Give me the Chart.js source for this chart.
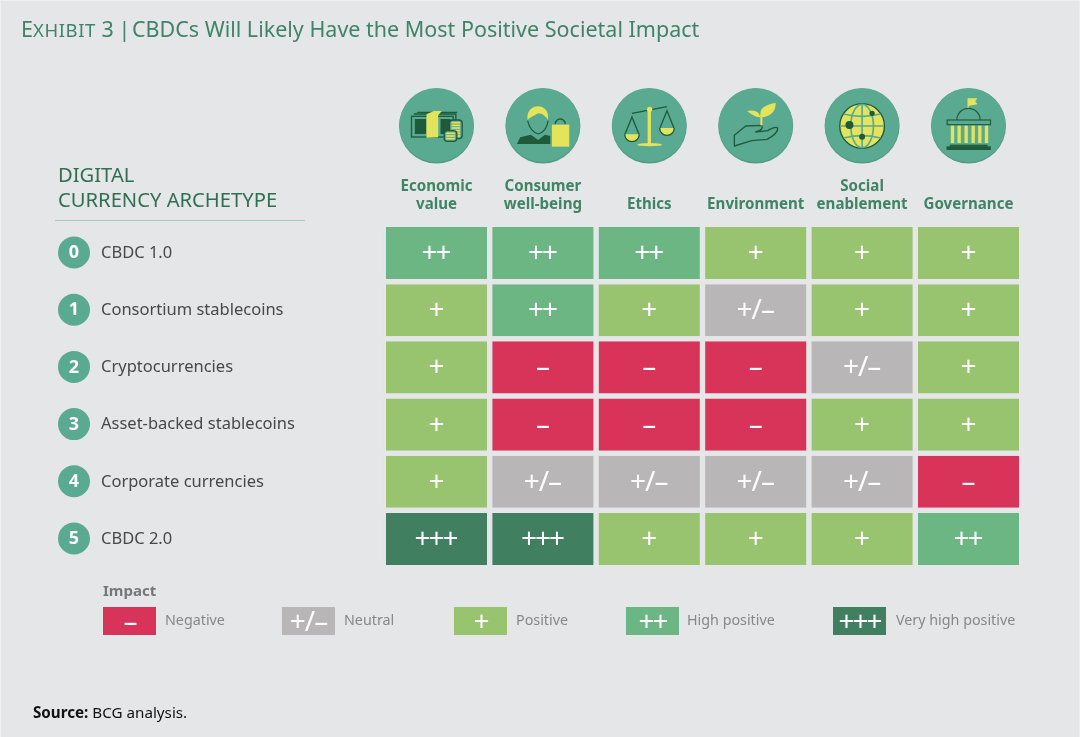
<!DOCTYPE html>
<html>
<head>
<meta charset="utf-8">
<script src="https://cdn.jsdelivr.net/npm/chart.js"></script>
<style>
    html, body { margin: 0; padding: 0; }
    body {
        position: relative; width: 1080px; height: 737px; overflow: hidden;
        background: #e5e6e8; font-family: "Noto Sans", sans-serif;
        box-shadow: inset 1px 1px 0 #f1f1f2, inset -1px 0 0 #eeeeef;
    }
    canvas { position: absolute; left: 0; top: 0; }
    .title {
        position: absolute; left: 21px; top: 14px; font-size: 21.5px; line-height: 30px;
        color: #3f8468; white-space: nowrap;
    }
    .title small { font-size: 18.5px; letter-spacing: 0.6px; }
    .title .pipe { margin: 0 -4px 0 -1px; }
    .archetype-head {
        position: absolute; left: 58px; top: 162px; width: 247px; height: 57px;
        font-size: 20.2px; line-height: 25px; color: #2f6f52;
        white-space: nowrap;
    }
    .archetype-rule { position: absolute; left: 55px; top: 220px; width: 250px; height: 1px; background: #a7c8b8; }
    .impact { position: absolute; left: 103px; top: 580px; font-size: 15px; line-height: 20px; font-weight: 700; color: #777; }
    .swatch {
        position: absolute; top: 607px; width: 53px; height: 28px; color: #fff;
        font-size: 28px; line-height: 26px; text-align: center;
    }
    .swatch-label { position: absolute; top: 608px; font-size: 14.3px; line-height: 24px; color: #85878a; white-space: nowrap; }
    .source { position: absolute; left: 33px; top: 701px; font-size: 15.2px; line-height: 22px; color: #111; }
    .source b { font-weight: 700; }
</style>
</head>
<body>
<canvas id="heatmap" width="1080" height="737"></canvas>
<div class="title">E<small>XHIBIT</small> 3<span class="pipe"> | </span>CBDCs Will Likely Have the Most Positive Societal Impact</div>
<div class="archetype-head">DIGITAL<br>CURRENCY ARCHETYPE</div>
<div class="archetype-rule"></div>
<div class="impact">Impact</div>
<div id="legend"></div>
<div class="source"><b>Source:</b> BCG analysis.</div>

<script>
// Rows and columns
const archetypes = ['CBDC 1.0', 'Consortium stablecoins', 'Cryptocurrencies', 'Asset-backed stablecoins', 'Corporate currencies', 'CBDC 2.0'];
const dimensions = [['Economic', 'value'], ['Consumer', 'well-being'], 'Ethics', 'Environment', ['Social', 'enablement'], 'Governance'];

// Ratings per column, top row first
const economicValue = ['++', '+', '+', '+', '+', '+++'];
const consumerWellBeing = ['++', '++', '–', '–', '+/–', '+++'];
const ethics = ['++', '+', '–', '–', '+/–', '+'];
const environment = ['+', '+/–', '–', '–', '+/–', '+'];
const socialEnablement = ['+', '+', '+/–', '+', '+/–', '+'];
const governance = ['+', '+', '+', '+', '–', '++'];

// Legend
const impactGlyphs = ['–', '+/–', '+', '++', '+++'];
const impactLabels = ['Negative', 'Neutral', 'Positive', 'High positive', 'Very high positive'];
const impactColors = ['#d8345a', '#b8b6b7', '#98c46f', '#6bb682', '#408061'];
const legendSwatchX = [103, 282, 454, 626, 833];
const legendLabelX = [165, 344, 516, 687, 896];

const PAGE_BG = '#e5e6e8';
const TEAL = '#5aaa92';
const TEAL_EDGE = '#519c85';
const DARK = '#1f5a3a';
const YELLOW = '#e4e35c';

const columns = [economicValue, consumerWellBeing, ethics, environment, socialEnablement, governance];

function colorFor(glyph) {
    return impactColors[impactGlyphs.indexOf(glyph)];
}

function glyphSpacing(glyph) {
    return glyph.includes('/') ? -1 : -2;
}

// --- Legend ---
const legendEl = document.getElementById('legend');
impactGlyphs.forEach((glyph, i) => {
    const swatch = document.createElement('div');
    swatch.className = 'swatch';
    swatch.style.left = legendSwatchX[i] + 'px';
    swatch.style.background = impactColors[i];
    swatch.style.letterSpacing = glyphSpacing(glyph) + 'px';
    swatch.textContent = glyph;
    legendEl.appendChild(swatch);

    const label = document.createElement('div');
    label.className = 'swatch-label';
    label.style.left = legendLabelX[i] + 'px';
    label.textContent = impactLabels[i];
    legendEl.appendChild(label);
});

// --- Icons: local coordinates are 3x pixels around the circle centre ---
function line(ctx, points, close) {
    ctx.beginPath();
    points.forEach((p, i) => i ? ctx.lineTo(p[0], p[1]) : ctx.moveTo(p[0], p[1]));
    if (close) ctx.closePath();
}

function coin(ctx, x, y, h) {
    ctx.fillStyle = TEAL;
    ctx.strokeStyle = DARK;
    ctx.lineWidth = 4;
    ctx.beginPath();
    ctx.roundRect(x - 19, y - h / 2, 38, h, 10);
    ctx.fill();
    ctx.stroke();
    ctx.strokeStyle = YELLOW;
    ctx.lineWidth = 5;
    for (let dy = -h / 2 + 8; dy < h / 2 - 3; dy += 8) {
        line(ctx, [[x - 13, y + dy], [x + 13, y + dy]]);
        ctx.stroke();
    }
}

function iconMoney(ctx) {
    ctx.strokeStyle = DARK;
    ctx.lineWidth = 4;
    ctx.strokeRect(-75, -29, 125, 62);
    line(ctx, [[-68, -36], [58, -36], [58, -15]]); ctx.stroke();
    line(ctx, [[-58, -41], [62, -41]]); ctx.stroke();
    ctx.fillStyle = DARK;
    ctx.fillRect(-65, -21, 34, 45);
    ctx.fillRect(12, -21, 30, 45);
    ctx.fillStyle = YELLOW;
    line(ctx, [[-30, -35], [-8, -45], [16, -45], [5, -32], [5, 34], [-30, 35]], true); ctx.fill();
    coin(ctx, 58, 10, 56);
    coin(ctx, 42, 30, 32);
}

function iconConsumer(ctx) {
    ctx.strokeStyle = DARK;
    ctx.lineWidth = 3.5;
    ctx.beginPath();
    ctx.moveTo(-46, -16);
    ctx.quadraticCurveTo(-38, 18, -14, 24);
    ctx.quadraticCurveTo(10, 18, 16, -16);
    ctx.stroke();
    ctx.fillStyle = YELLOW;
    ctx.beginPath();
    ctx.moveTo(-46, -18);
    ctx.bezierCurveTo(-54, -72, 24, -74, 15, -18);
    ctx.bezierCurveTo(6, -36, -12, -40, -18, -36);
    ctx.bezierCurveTo(-28, -30, -40, -26, -46, -18);
    ctx.fill();
    ctx.fillStyle = DARK;
    line(ctx, [[-78, 54], [-68, 34], [-36, 26], [-14, 42], [6, 26], [22, 30], [22, 54]], true); ctx.fill();
    ctx.strokeStyle = DARK;
    ctx.lineWidth = 4;
    ctx.beginPath(); ctx.arc(52, -6, 15, Math.PI, 0); ctx.stroke();
    ctx.fillStyle = YELLOW;
    ctx.fillRect(27, -4, 52, 66);
}

function iconScales(ctx) {
    ctx.strokeStyle = DARK;
    ctx.lineWidth = 4;
    line(ctx, [[-52, -38], [53, -58]]); ctx.stroke();
    const pan = (x, y) => {
        line(ctx, [[x - 21, y + 26], [x, y - 26], [x + 21, y + 26]]); ctx.stroke();
        ctx.beginPath(); ctx.arc(x, y + 26, 22, 0, Math.PI);
        ctx.fillStyle = YELLOW; ctx.closePath(); ctx.fill();
        ctx.beginPath(); ctx.arc(x, y + 26, 22, 0.0, Math.PI); ctx.stroke();
    };
    pan(-52, -1);
    pan(53, -20);
    ctx.fillStyle = YELLOW;
    ctx.fillRect(-5, -50, 10, 103);
    ctx.beginPath(); ctx.arc(1, -50, 8, 0, 2 * Math.PI); ctx.fill();
    ctx.beginPath(); ctx.ellipse(1, 56, 37, 5, 0, 0, 2 * Math.PI); ctx.fill();
}

function iconPlant(ctx) {
    ctx.strokeStyle = DARK;
    ctx.lineWidth = 4;
    ctx.lineJoin = 'round';
    ctx.beginPath();
    ctx.moveTo(-64, 28);
    ctx.lineTo(-30, 0);
    ctx.lineTo(18, -2);
    ctx.quadraticCurveTo(26, 10, 0, 18);
    ctx.lineTo(36, 14);
    ctx.quadraticCurveTo(60, 0, 66, 6);
    ctx.quadraticCurveTo(68, 22, 34, 40);
    ctx.lineTo(-12, 44);
    ctx.lineTo(-64, 60);
    ctx.closePath();
    ctx.stroke();
    ctx.fillStyle = YELLOW;
    ctx.fillRect(14, -34, 6, 32);
    ctx.beginPath();
    ctx.moveTo(16, -26);
    ctx.quadraticCurveTo(4, -60, 60, -70);
    ctx.quadraticCurveTo(60, -30, 16, -26);
    ctx.fill();
    ctx.beginPath();
    ctx.moveTo(14, -26);
    ctx.quadraticCurveTo(-2, -26, -26, -45);
    ctx.quadraticCurveTo(10, -52, 14, -26);
    ctx.fill();
}

function iconGlobe(ctx) {
    ctx.fillStyle = YELLOW;
    ctx.strokeStyle = DARK;
    ctx.lineWidth = 4;
    ctx.beginPath(); ctx.arc(0, 0, 67, 0, 2 * Math.PI); ctx.fill(); ctx.stroke();
    ctx.strokeStyle = TEAL;
    ctx.lineWidth = 5;
    line(ctx, [[0, -65], [0, 65]]); ctx.stroke();
    line(ctx, [[-65, 0], [65, 0]]); ctx.stroke();
    ctx.beginPath(); ctx.ellipse(0, 0, 34, 65, 0, 0, 2 * Math.PI); ctx.stroke();
    ctx.beginPath(); ctx.moveTo(-55, -36); ctx.quadraticCurveTo(0, -22, 55, -36); ctx.stroke();
    ctx.beginPath(); ctx.moveTo(-55, 36); ctx.quadraticCurveTo(0, 22, 55, 36); ctx.stroke();
    ctx.fillStyle = DARK;
    [[-38, -3, 12], [0, 32, 9], [30, -38, 8]].forEach(d => {
        ctx.beginPath(); ctx.arc(d[0], d[1], d[2], 0, 2 * Math.PI); ctx.fill();
    });
}

function iconCapitol(ctx) {
    ctx.fillStyle = YELLOW;
    ctx.fillRect(-3, -83, 4, 31);
    line(ctx, [[-1, -83], [27, -83], [20, -74], [27, -65], [-1, -60]], true); ctx.fill();
    ctx.strokeStyle = DARK;
    ctx.lineWidth = 3.5;
    ctx.beginPath(); ctx.arc(0, -18, 35, Math.PI, 0); ctx.stroke();
    ctx.fillStyle = TEAL;
    ctx.fillRect(-64, -18, 130, 14);
    ctx.strokeRect(-64, -18, 130, 14);
    ctx.fillStyle = YELLOW;
    [-48, -28, -7, 14, 34, 54].forEach(x => ctx.fillRect(x - 5, -1, 10, 52));
    ctx.fillStyle = DARK;
    ctx.fillRect(-56, 56, 113, 6);
    ctx.fillRect(-66, 61, 133, 11);
}

const iconDrawers = [iconMoney, iconConsumer, iconScales, iconPlant, iconGlobe, iconCapitol];

// --- Chart ---
const cellGlyphs = {
    id: 'cellGlyphs',
    afterDatasetsDraw(chart) {
        const ctx = chart.ctx;
        ctx.save();
        ctx.fillStyle = '#fff';
        ctx.font = '28px "Noto Sans"';
        ctx.textAlign = 'center';
        ctx.textBaseline = 'middle';
        chart.data.datasets.forEach((dataset, d) => {
            chart.getDatasetMeta(d).data.forEach((bar, r) => {
                const c = bar.getCenterPoint();
                const glyph = dataset.ratings[r];
                const spacing = glyphSpacing(glyph);
                ctx.letterSpacing = spacing + 'px';
                // letter spacing also trails the last glyph, so pull the text back to centre
                ctx.fillText(glyph, c.x + spacing / 2, c.y + 1);
            });
        });
        ctx.restore();
    }
};

const rowBadges = {
    id: 'rowBadges',
    afterDraw(chart) {
        const ctx = chart.ctx;
        const yScale = chart.scales.y;
        ctx.save();
        ctx.textAlign = 'center';
        ctx.textBaseline = 'middle';
        ctx.font = '700 18px "Noto Sans"';
        archetypes.forEach((name, i) => {
            const y = yScale.getPixelForTick(i);
            ctx.fillStyle = TEAL;
            ctx.beginPath();
            ctx.arc(74, y - 0.5, 16, 0, 2 * Math.PI);
            ctx.fill();
            ctx.fillStyle = '#fff';
            ctx.fillText(String(i), 74, y);
        });
        ctx.restore();
    }
};

const columnIcons = {
    id: 'columnIcons',
    afterDraw(chart) {
        const ctx = chart.ctx;
        const xScale = chart.scales.xTop;
        iconDrawers.forEach((draw, i) => {
            const x = xScale.getPixelForTick(i);
            ctx.save();
            ctx.translate(x, 126);
            ctx.fillStyle = TEAL_EDGE;
            ctx.beginPath(); ctx.arc(0, 0, 37.5, 0, 2 * Math.PI); ctx.fill();
            ctx.fillStyle = TEAL;
            ctx.beginPath(); ctx.arc(0, -1, 37, 0, 2 * Math.PI); ctx.fill();
            ctx.scale(1 / 3, 1 / 3);
            draw(ctx);
            ctx.restore();
        });
    }
};

new Chart(document.getElementById('heatmap').getContext('2d'), {
    type: 'bar',
    data: {
        labels: archetypes,
        datasets: columns.map(ratings => ({
            ratings,
            data: ratings.map(() => 1),
            backgroundColor: ratings.map(colorFor),
            borderColor: PAGE_BG,
            borderWidth: { left: 2.7, right: 2.7, top: 0, bottom: 0 },
            borderSkipped: false,
            inflateAmount: 0,
            categoryPercentage: 1,
            barPercentage: 0.91
        }))
    },
    options: {
        indexAxis: 'y',
        responsive: false,
        animation: false,
        layout: { padding: { left: 101, right: 58.3, top: 160, bottom: 169.4 } },
        plugins: { legend: { display: false }, tooltip: { enabled: false } },
        scales: {
            x: { stacked: true, min: 0, max: 6, display: false },
            xTop: {
                type: 'category',
                axis: 'x',
                position: 'top',
                labels: dimensions,
                offset: true,
                grid: { display: false, drawTicks: false },
                border: { display: false },
                ticks: {
                    color: '#3f8464',
                    font: { family: '"Noto Sans"', size: 15.1, weight: '700', lineHeight: 1.19 },
                    padding: 11,
                    maxRotation: 0,
                    autoSkip: false
                },
                afterFit(scale) { scale.height = 64.4; }
            },
            y: {
                stacked: true,
                grid: { display: false, drawTicks: false },
                border: { display: false },
                ticks: {
                    color: '#46484b',
                    font: { family: '"Noto Sans"', size: 16.5 },
                    crossAlign: 'far',
                    autoSkip: false
                },
                afterFit(scale) { scale.width = 282.3; }
            }
        }
    },
    plugins: [cellGlyphs, rowBadges, columnIcons]
});
</script>
</body>
</html>
